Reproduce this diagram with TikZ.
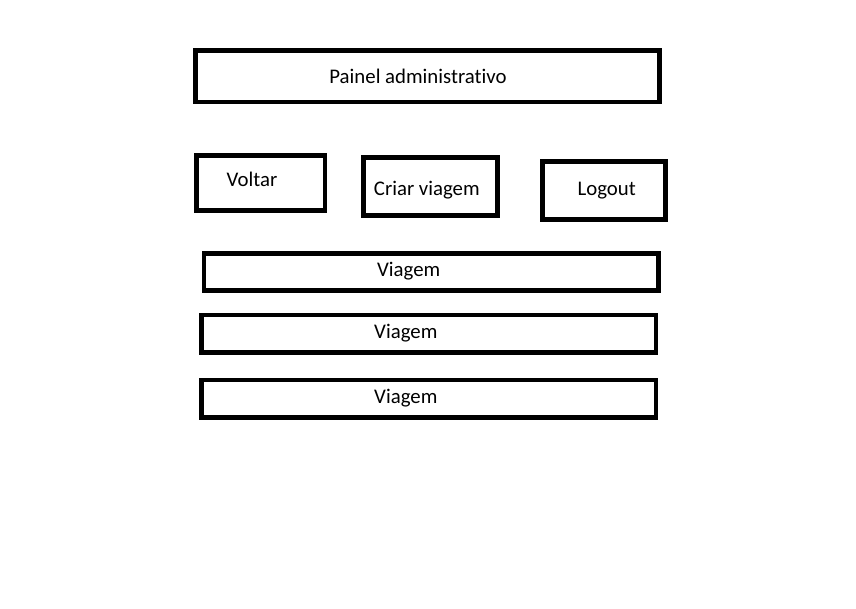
\documentclass[tikz,border=0pt]{standalone}
\usepackage{fontspec}
\setmainfont{Carlito}[Ligatures=NoCommon]
\begin{document}
\begin{tikzpicture}[x=1pt,y=-1pt,
  box/.style={draw=black,line width=4.5pt,rectangle,inner sep=0pt,fill=none},
  txt/.style={inner sep=0pt,anchor=base,font=\fontsize{20.8}{24}\selectfont}]
\useasboundingbox[fill=white] (0,0) rectangle (856,608);
% boxes
\node[box,minimum width=464pt,minimum height=51.5pt] (painel) at (427.5,76.25) {};
\node[box,minimum width=128.5pt,minimum height=55pt] (voltar) at (260.75,183) {};
\node[box,minimum width=134.4pt,minimum height=57.8pt] (criar) at (430.5,186.5) {};
\node[box,minimum width=123.1pt,minimum height=58.1pt] (logout) at (603.85,190.35) {};
\node[box,minimum width=454.7pt,minimum height=37.1pt] (v1) at (431.35,271.85) {};
\node[box,minimum width=454.7pt,minimum height=37.4pt] (v2) at (428.65,333.7) {};
\node[box,minimum width=454.7pt,minimum height=37.7pt] (v3) at (428.65,398.85) {};
% texts
\node[txt] (tpainel) at (418,83.3) {Painel administrativo};
\node[txt] (tvoltar) at (252,186.7) {Voltar};
\node[txt] (tcriar) at (426.8,195) {Criar viagem};
\node[txt] (tlogout) at (606.7,195.7) {Logout};
\node[txt] (tv1) at (408.7,276) {Viagem};
\node[txt] (tv2) at (405.8,338.3) {Viagem};
\node[txt] (tv3) at (405.8,403.3) {Viagem};
\end{tikzpicture}
\end{document}
